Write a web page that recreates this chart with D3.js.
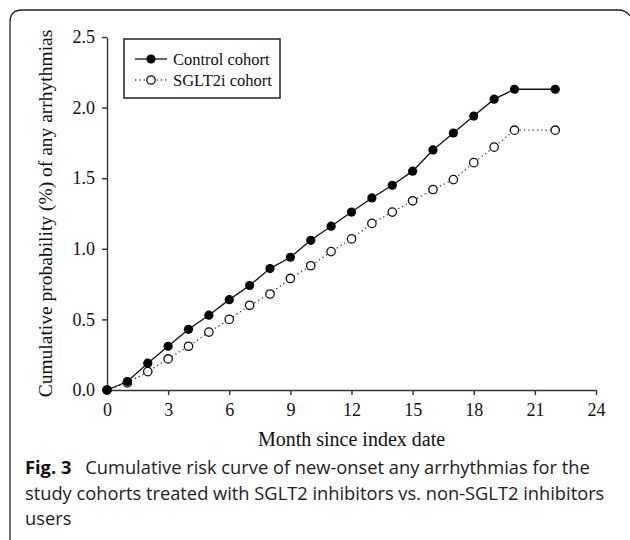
<!DOCTYPE html>
<html>
<head>
<meta charset="utf-8">
<script src="https://cdn.jsdelivr.net/npm/d3@7"></script>
<style>
  body { margin: 0; background: #fff; }
  svg { display: block; }
  .axis path, .axis line { stroke: #333; stroke-width: 1.4; }
  .axis text { font-family: "Liberation Serif", serif; font-size: 18px; fill: #111; }
</style>
</head>
<body>
<div id="chart"></div>
<script>
// months since index date
const months = [0, 1, 2, 3, 4, 5, 6, 7, 8, 9, 10, 11, 12, 13, 14, 15, 16, 17, 18, 19, 20, 22];
// cumulative probability (%)
const control = [0, 0.06, 0.19, 0.31, 0.43, 0.53, 0.64, 0.74, 0.86, 0.94, 1.06, 1.16, 1.26, 1.36, 1.45, 1.55, 1.70, 1.82, 1.94, 2.06, 2.13, 2.13];
const sglt2i = [0, 0.05, 0.13, 0.22, 0.31, 0.41, 0.50, 0.60, 0.68, 0.79, 0.88, 0.98, 1.07, 1.18, 1.26, 1.34, 1.42, 1.49, 1.61, 1.72, 1.84, 1.84];

const xTicks = [0, 3, 6, 9, 12, 15, 18, 21, 24];
const yTicks = [0, 0.5, 1.0, 1.5, 2.0, 2.5];
const seriesNames = ["Control cohort", "SGLT2i cohort"];
const captionLines = [
    "Cumulative risk curve of new-onset any arrhythmias for the",
    "study cohorts treated with SGLT2 inhibitors vs. non-SGLT2 inhibitors",
    "users"
];

const width = 630, height = 540;

const svg = d3.select("#chart").append("svg")
    .attr("width", width)
    .attr("height", height);

// figure frame: open at the bottom/right like the cropped journal panel
const r = 12;
svg.append("path")
    .attr("d", `M10,${height} L10,${10 + r} Q10,10 ${10 + r},10 L${width - 12},10 Q${width - 4},10 ${width},16`)
    .attr("fill", "none")
    .attr("stroke", "#222")
    .attr("stroke-width", 1.3);

const x = d3.scaleLinear().domain([0, 24]).range([107, 596]);
const y = d3.scaleLinear().domain([0, 2.5]).range([390, 37]);

svg.append("g")
    .attr("class", "axis")
    .attr("transform", `translate(0,${y(0)})`)
    .call(d3.axisBottom(x).tickValues(xTicks).tickSize(5).tickSizeOuter(0).tickPadding(6).tickFormat(d3.format("d")))
    .selectAll("text").attr("dy", "0.85em");

svg.append("g")
    .attr("class", "axis")
    .attr("transform", `translate(${x(0)},0)`)
    .call(d3.axisLeft(y).tickValues(yTicks).tickSize(5).tickSizeOuter(0).tickPadding(7).tickFormat(d3.format(".1f")));

// axis titles
svg.append("text")
    .attr("x", (x(0) + x(24)) / 2)
    .attr("y", 446)
    .attr("text-anchor", "middle")
    .style("font-family", "Liberation Serif, serif")
    .style("font-size", "20px")
    .attr("fill", "#111")
    .text("Month since index date");

svg.append("text")
    .attr("transform", `translate(52,${(y(0) + y(2.5)) / 2}) rotate(-90)`)
    .attr("text-anchor", "middle")
    .style("font-family", "Liberation Serif, serif")
    .style("font-size", "19.5px")
    .attr("fill", "#111")
    .text("Cumulative probability (%) of any arrhythmias");

// series
const line = d3.line()
    .x((d, i) => x(months[i]))
    .y(d => y(d));

svg.append("path")
    .datum(sglt2i)
    .attr("d", line)
    .attr("fill", "none")
    .attr("stroke", "#444")
    .attr("stroke-width", 1.3)
    .attr("stroke-dasharray", "1.3,3");

svg.append("path")
    .datum(control)
    .attr("d", line)
    .attr("fill", "none")
    .attr("stroke", "#111")
    .attr("stroke-width", 1.3);

svg.append("g").selectAll("circle")
    .data(sglt2i)
    .join("circle")
    .attr("cx", (d, i) => x(months[i]))
    .attr("cy", d => y(d))
    .attr("r", 4.2)
    .attr("fill", "#fff")
    .attr("stroke", "#111")
    .attr("stroke-width", 1.3);

svg.append("g").selectAll("circle")
    .data(control)
    .join("circle")
    .attr("cx", (d, i) => x(months[i]))
    .attr("cy", d => y(d))
    .attr("r", 4.6)
    .attr("fill", "#000");

// legend
const legend = svg.append("g");
legend.append("rect")
    .attr("x", 124).attr("y", 39)
    .attr("width", 156).attr("height", 59)
    .attr("fill", "#fff")
    .attr("stroke", "#222")
    .attr("stroke-width", 1.5);

seriesNames.forEach((name, i) => {
    const ly = 59 + i * 21;
    legend.append("line")
        .attr("x1", 135).attr("x2", 167)
        .attr("y1", ly).attr("y2", ly)
        .attr("stroke", i === 0 ? "#111" : "#444")
        .attr("stroke-width", 1.3)
        .attr("stroke-dasharray", i === 0 ? null : "1.3,3");
    legend.append("circle")
        .attr("cx", 151).attr("cy", ly)
        .attr("r", i === 0 ? 4.6 : 4.2)
        .attr("fill", i === 0 ? "#000" : "#fff")
        .attr("stroke", "#111")
        .attr("stroke-width", i === 0 ? 0 : 1.3);
    legend.append("text")
        .attr("x", 173).attr("y", ly)
        .attr("dy", "0.35em")
        .style("font-family", "Liberation Serif, serif")
        .style("font-size", "16.5px")
        .attr("fill", "#111")
        .text(name);
});

// caption
const caption = svg.append("text")
    .style("font-family", "Open Sans, sans-serif")
    .style("font-size", "18.3px")
    .attr("fill", "#222");

captionLines.forEach((txt, i) => {
    const t = caption.append("tspan")
        .attr("x", 25)
        .attr("y", 474 + i * 25.5);
    if (i === 0) {
        t.append("tspan").style("font-weight", "bold").attr("fill", "#111").text("Fig. 3");
        t.append("tspan").text("\u2002 " + txt);
    } else {
        t.text(txt);
    }
});
</script>
</body>
</html>
